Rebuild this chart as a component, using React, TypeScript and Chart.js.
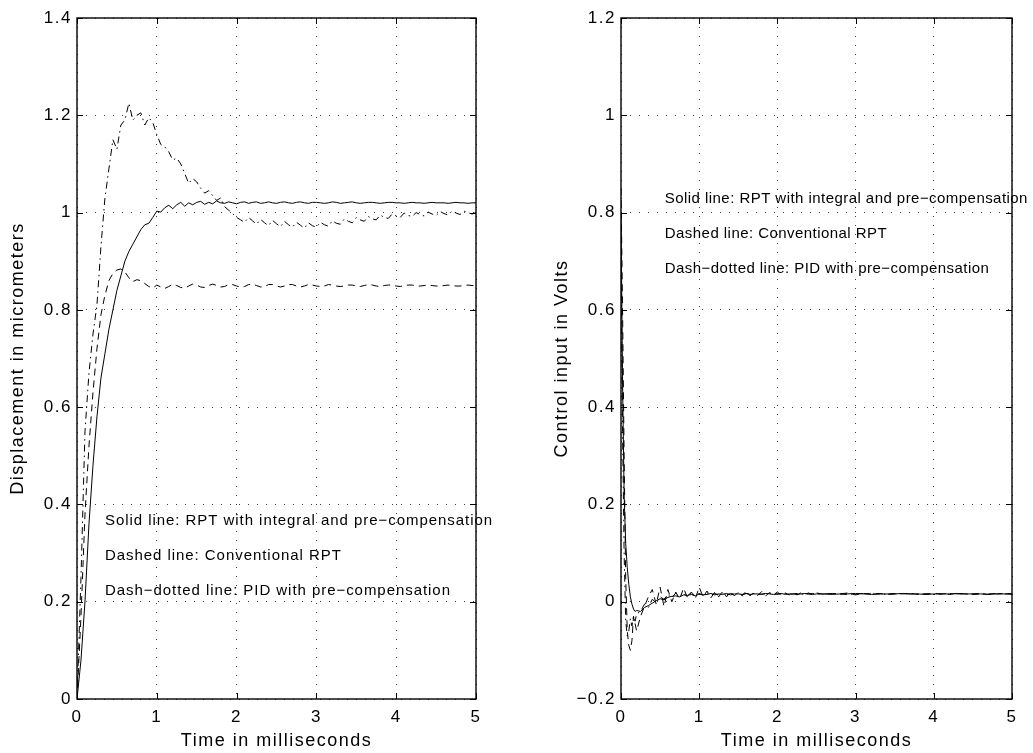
import React, { useEffect, useRef } from "react";
import { Chart, registerables } from "chart.js";

Chart.register(...registerables);

// ---------- Data ----------
const T_LEFT = [
  0, 0.05, 0.1, 0.15, 0.2, 0.25, 0.3, 0.35, 0.4, 0.45,
  0.5, 0.55, 0.6, 0.65, 0.7, 0.75, 0.8, 0.85, 0.9, 0.95,
  1.0, 1.05, 1.1, 1.15, 1.2, 1.25, 1.3, 1.35, 1.4, 1.45,
  1.5, 1.55, 1.6, 1.65, 1.7, 1.75, 1.8, 1.85, 1.9, 1.95,
  2.0, 2.05, 2.1, 2.15, 2.2, 2.25, 2.3, 2.35, 2.4, 2.45,
  2.5, 2.55, 2.6, 2.65, 2.7, 2.75, 2.8, 2.85, 2.9, 2.95,
  3.0, 3.05, 3.1, 3.15, 3.2, 3.25, 3.3, 3.35, 3.4, 3.45,
  3.5, 3.55, 3.6, 3.65, 3.7, 3.75, 3.8, 3.85, 3.9, 3.95,
  4.0, 4.05, 4.1, 4.15, 4.2, 4.25, 4.3, 4.35, 4.4, 4.45,
  4.5, 4.55, 4.6, 4.65, 4.7, 4.75, 4.8, 4.85, 4.9, 4.95,
  5.0,
];

// Solid: RPT with integral and pre-compensation (displacement)
const DISP_SOLID = [
  0, 0.08, 0.2, 0.36, 0.48, 0.58, 0.66, 0.71, 0.76, 0.8,
  0.84, 0.87, 0.9, 0.92, 0.935, 0.95, 0.965, 0.975, 0.978, 0.99,
  1.003, 1.001, 1.01, 1.015, 1.008, 1.016, 1.021, 1.013, 1.02, 1.016,
  1.021, 1.023, 1.017, 1.021, 1.018, 1.024, 1.02, 1.019, 1.022, 1.02,
  1.018, 1.021, 1.022, 1.019, 1.021, 1.022, 1.019, 1.02, 1.022, 1.02,
  1.019, 1.021, 1.022, 1.02, 1.019, 1.021, 1.022, 1.02, 1.019, 1.021,
  1.021, 1.02, 1.019, 1.02, 1.022, 1.021, 1.019, 1.02, 1.021, 1.022,
  1.02, 1.019, 1.02, 1.021, 1.021, 1.02, 1.019, 1.02, 1.021, 1.021,
  1.02, 1.02, 1.019, 1.02, 1.021, 1.02, 1.02, 1.019, 1.02, 1.021,
  1.02, 1.02, 1.02, 1.019, 1.02, 1.021, 1.02, 1.02, 1.019, 1.02,
  1.02,
];

// Dashed: Conventional RPT (displacement)
const DISP_DASHED = [
  0, 0.17, 0.38, 0.52, 0.63, 0.72, 0.79, 0.83, 0.86, 0.875,
  0.882, 0.884, 0.878, 0.866, 0.858, 0.862, 0.86, 0.854, 0.848, 0.845,
  0.851, 0.847, 0.844, 0.848, 0.853, 0.85, 0.846, 0.845, 0.849, 0.853,
  0.851, 0.847, 0.846, 0.85, 0.853, 0.85, 0.847, 0.848, 0.852, 0.852,
  0.849, 0.847, 0.848, 0.852, 0.853, 0.85, 0.847, 0.848, 0.852, 0.852,
  0.849, 0.847, 0.849, 0.852, 0.852, 0.849, 0.847, 0.849, 0.852, 0.851,
  0.849, 0.848, 0.849, 0.852, 0.851, 0.849, 0.848, 0.849, 0.851, 0.851,
  0.849, 0.848, 0.85, 0.852, 0.851, 0.849, 0.848, 0.85, 0.851, 0.851,
  0.849, 0.848, 0.85, 0.851, 0.851, 0.849, 0.849, 0.85, 0.851, 0.85,
  0.849, 0.849, 0.85, 0.851, 0.85, 0.849, 0.849, 0.85, 0.851, 0.85,
  0.85,
];

// Dash-dotted: PID with pre-compensation (displacement)
const DISP_DASHDOT = [
  0, 0.25, 0.55, 0.67, 0.75, 0.81, 0.93, 1.03, 1.09, 1.15,
  1.13, 1.18, 1.19, 1.225, 1.19, 1.2, 1.205, 1.18, 1.195, 1.185,
  1.16, 1.14, 1.135, 1.125, 1.108, 1.112, 1.1, 1.08, 1.06, 1.07,
  1.063, 1.05, 1.04, 1.045, 1.035, 1.025, 1.03, 1.012, 1.005, 0.998,
  0.99, 0.985, 0.98, 0.99, 0.983, 0.976, 0.986, 0.979, 0.973, 0.984,
  0.977, 0.971, 0.982, 0.975, 0.97, 0.98, 0.974, 0.968, 0.979, 0.973,
  0.97, 0.98, 0.975, 0.972, 0.983, 0.978, 0.976, 0.987, 0.982, 0.979,
  0.99, 0.985, 0.982, 0.992, 0.987, 0.985, 0.995, 0.99, 0.988, 0.997,
  0.993, 0.99, 0.999, 0.994, 0.992, 1.0, 0.996, 0.993, 1.001, 0.997,
  0.994, 1.002, 0.998, 0.995, 1.003, 0.999, 0.996, 1.003, 1.0, 0.997,
  1.0,
];

const T_RIGHT = [
  0, 0.02, 0.04, 0.06, 0.08, 0.1, 0.12, 0.14, 0.16, 0.18, 0.2,
  0.25, 0.3, 0.35, 0.4, 0.45, 0.5, 0.55, 0.6, 0.65, 0.7,
  0.75, 0.8, 0.85, 0.9, 0.95, 1.0, 1.05, 1.1, 1.15, 1.2,
  1.25, 1.3, 1.35, 1.4, 1.45, 1.5, 1.55, 1.6, 1.65, 1.7,
  1.75, 1.8, 1.85, 1.9, 1.95, 2.0, 2.05, 2.1, 2.15, 2.2,
  2.25, 2.3, 2.35, 2.4, 2.45, 2.5,
  2.6, 2.7, 2.8, 2.9, 3.0, 3.1, 3.2, 3.3, 3.4, 3.5,
  3.6, 3.7, 3.8, 3.9, 4.0, 4.1, 4.2, 4.3, 4.4, 4.5,
  4.6, 4.7, 4.8, 4.9, 5.0,
];

const CTRL_SOLID = [
  0.8, 0.45, 0.22, 0.12, 0.07, 0.035, 0.01, -0.005, -0.015, -0.02, -0.018,
  -0.02, -0.012, -0.008, -0.003, 0.002, 0.006, 0.004, 0.009, 0.011, 0.012,
  0.01, 0.014, 0.013, 0.015, 0.012, 0.016, 0.014, 0.015, 0.017, 0.014,
  0.016, 0.015, 0.017, 0.014, 0.016, 0.016, 0.015, 0.017, 0.015, 0.016,
  0.016, 0.015, 0.017, 0.016, 0.015, 0.016, 0.017, 0.015, 0.016, 0.016,
  0.015, 0.016, 0.017, 0.016, 0.015, 0.016,
  0.016, 0.015, 0.016, 0.016, 0.017, 0.016, 0.015, 0.016, 0.016, 0.016,
  0.017, 0.016, 0.016, 0.015, 0.016, 0.016, 0.016, 0.017, 0.016, 0.016,
  0.016, 0.015, 0.016, 0.016, 0.016,
];

const CTRL_DASHED = [
  0.85, 0.6, 0.3, 0.05, -0.06, -0.09, -0.1, -0.08, -0.03, -0.045, -0.06,
  -0.03, -0.01, 0.01, 0.025, -0.005, 0.03, -0.01, 0.025, 0.0, 0.02,
  0.005, 0.028, 0.008, 0.02, 0.006, 0.03, 0.01, 0.022, 0.008, 0.02,
  0.01, 0.022, 0.01, 0.02, 0.012, 0.02, 0.012, 0.022, 0.012, 0.019,
  0.013, 0.021, 0.012, 0.019, 0.014, 0.02, 0.013, 0.018, 0.014, 0.019,
  0.014, 0.018, 0.015, 0.018, 0.014, 0.018,
  0.015, 0.017, 0.016, 0.018, 0.014, 0.017, 0.016, 0.017, 0.015, 0.017,
  0.016, 0.017, 0.015, 0.016, 0.017, 0.016, 0.015, 0.017, 0.016, 0.016,
  0.017, 0.015, 0.016, 0.017, 0.016,
];

const CTRL_DASHDOT = [
  0.7, 0.35, 0.1, -0.04, -0.07, -0.06, -0.035, -0.05, -0.03, -0.04, -0.025,
  -0.02, -0.005, -0.012, 0.005, -0.002, 0.01, 0.005, 0.015, 0.008, 0.018,
  0.01, 0.016, 0.012, 0.019, 0.012, 0.017, 0.013, 0.018, 0.013, 0.017,
  0.014, 0.018, 0.014, 0.017, 0.015, 0.018, 0.014, 0.017, 0.015, 0.017,
  0.015, 0.016, 0.016, 0.017, 0.015, 0.016, 0.016, 0.017, 0.015, 0.016,
  0.017, 0.016, 0.015, 0.016, 0.017, 0.016,
  0.016, 0.017, 0.016, 0.015, 0.016, 0.017, 0.016, 0.016, 0.015, 0.016,
  0.017, 0.016, 0.016, 0.016, 0.015, 0.016, 0.017, 0.016, 0.016, 0.015,
  0.016, 0.016, 0.017, 0.016, 0.016,
];

const NOTES = [
  "Solid line: RPT with integral and pre\u2212compensation",
  "Dashed line: Conventional RPT",
  "Dash\u2212dotted line: PID with pre\u2212compensation",
];
const LEFT_NOTE_X = 0.35;
const LEFT_NOTE_Y = [0.366, 0.294, 0.222];
const RIGHT_NOTE_X = 0.56;
const RIGHT_NOTE_Y = [0.828, 0.756, 0.684];

const X_TITLE = "Time in milliseconds";
const LEFT_Y_TITLE = "Displacement in micrometers";
const RIGHT_Y_TITLE = "Control input in Volts";

// ---------- Chart helpers ----------
const FONT = '"Liberation Sans", Arial, Helvetica, sans-serif';

const framePlugin = {
  id: "frame",
  beforeDraw(chart: any) {
    (chart.ctx as any).letterSpacing = "1.5px";
  },
  afterDraw(chart: any, _args: any, opts: any) {
    const { ctx, chartArea, scales } = chart;
    const { left, right, top, bottom } = chartArea;
    const x = scales.x;
    const y = scales.y;
    ctx.save();
    ctx.setLineDash([]);
    ctx.strokeStyle = "#000";
    ctx.lineWidth = 1;
    const L = 6;
    ctx.beginPath();
    x.ticks.forEach((t: any) => {
      const px = Math.round(x.getPixelForValue(t.value)) + 0.5;
      ctx.moveTo(px, bottom);
      ctx.lineTo(px, bottom - L);
      ctx.moveTo(px, top);
      ctx.lineTo(px, top + L);
    });
    y.ticks.forEach((t: any) => {
      const py = Math.round(y.getPixelForValue(t.value)) + 0.5;
      ctx.moveTo(left, py);
      ctx.lineTo(left + L, py);
      ctx.moveTo(right, py);
      ctx.lineTo(right - L, py);
    });
    ctx.stroke();
    ctx.lineWidth = 1.4;
    ctx.strokeRect(left, top, right - left, bottom - top);

    ctx.fillStyle = "#000";
    ctx.font = `15px ${FONT}`;
    (ctx as any).letterSpacing = opts.spacing;
    ctx.textAlign = "left";
    ctx.textBaseline = "middle";
    const nx = x.getPixelForValue(opts.noteX);
    opts.notes.forEach((s: string, i: number) => {
      ctx.fillText(s, nx, y.getPixelForValue(opts.noteY[i]));
    });
    ctx.restore();
  },
};

function fmt(v: number) {
  const r = Math.round(v * 10) / 10;
  return String(r).replace("-", "\u2212");
}

function makeConfig(
  t: number[],
  solid: number[],
  dashed: number[],
  dashdot: number[],
  yMin: number,
  yMax: number,
  yTitle: string,
  yAxisWidth: number,
  yTitlePad: number,
  rightPad: number,
  noteX: number,
  noteY: number[],
  spacing: string
): any {
  const mk = (arr: number[]) => t.map((xv, i) => ({ x: xv, y: arr[i] }));
  const base = {
    borderColor: "#000",
    borderWidth: 1,
    pointRadius: 0,
    tension: 0,
    fill: false,
  };
  return {
    type: "line",
    data: {
      datasets: [
        { ...base, label: "dashdot", data: mk(dashdot), borderDash: [7, 4, 1.5, 4] },
        { ...base, label: "dashed", data: mk(dashed), borderDash: [7, 5] },
        { ...base, label: "solid", data: mk(solid), borderDash: [] },
      ],
    },
    plugins: [framePlugin],
    options: {
      animation: false,
      responsive: false,
      maintainAspectRatio: false,
      layout: { padding: { top: 18, right: rightPad, left: 0, bottom: 0 } },
      plugins: {
        legend: { display: false },
        tooltip: { enabled: false },
        frame: { notes: NOTES, noteX, noteY, spacing },
      },
      scales: {
        x: {
          type: "linear",
          min: 0,
          max: 5,
          afterFit: (s: any) => {
            s.height = 54;
          },
          ticks: {
            stepSize: 1,
            color: "#000",
            padding: 8,
            font: { family: FONT, size: 17 },
            maxRotation: 0,
            callback: (v: number) => fmt(v),
          },
          grid: { color: "rgba(0,0,0,0.75)", lineWidth: 1, drawTicks: false },
          border: { display: false, dash: [1, 8] },
          title: {
            display: true,
            text: X_TITLE,
            color: "#000",
            font: { family: FONT, size: 18 },
            padding: { top: 0, bottom: 1 },
          },
        },
        y: {
          type: "linear",
          min: yMin,
          max: yMax,
          afterFit: (s: any) => {
            s.width = yAxisWidth;
          },
          ticks: {
            stepSize: 0.2,
            color: "#000",
            padding: 5,
            font: { family: FONT, size: 17 },
            callback: (v: number) => fmt(v),
          },
          grid: { color: "rgba(0,0,0,0.75)", lineWidth: 1, drawTicks: false },
          border: { display: false, dash: [1, 8] },
          title: {
            display: true,
            text: yTitle,
            color: "#000",
            font: { family: FONT, size: 18 },
            padding: { top: yTitlePad, bottom: 0 },
          },
        },
      },
    },
  };
}

export default function App() {
  const leftRef = useRef<HTMLCanvasElement>(null);
  const rightRef = useRef<HTMLCanvasElement>(null);

  useEffect(() => {
    document.body.style.background = "#fff";
    const c1 = new Chart(
      leftRef.current as HTMLCanvasElement,
      makeConfig(T_LEFT, DISP_SOLID, DISP_DASHED, DISP_DASHDOT, 0, 1.4, LEFT_Y_TITLE, 77, 7, 44, LEFT_NOTE_X, LEFT_NOTE_Y, "0.95px")
    );
    const c2 = new Chart(
      rightRef.current as HTMLCanvasElement,
      makeConfig(T_RIGHT, CTRL_SOLID, CTRL_DASHED, CTRL_DASHDOT, -0.2, 1.2, RIGHT_Y_TITLE, 101, 31, 21, RIGHT_NOTE_X, RIGHT_NOTE_Y, "0.45px")
    );
    return () => {
      c1.destroy();
      c2.destroy();
    };
  }, []);

  return (
    <div style={{ position: "absolute", left: 0, top: 0, width: 1033, height: 753, background: "#fff" }}>
      <canvas ref={leftRef} width={520} height={753} style={{ position: "absolute", left: 0, top: 0 }} />
      <canvas ref={rightRef} width={513} height={753} style={{ position: "absolute", left: 520, top: 0 }} />
    </div>
  );
}
